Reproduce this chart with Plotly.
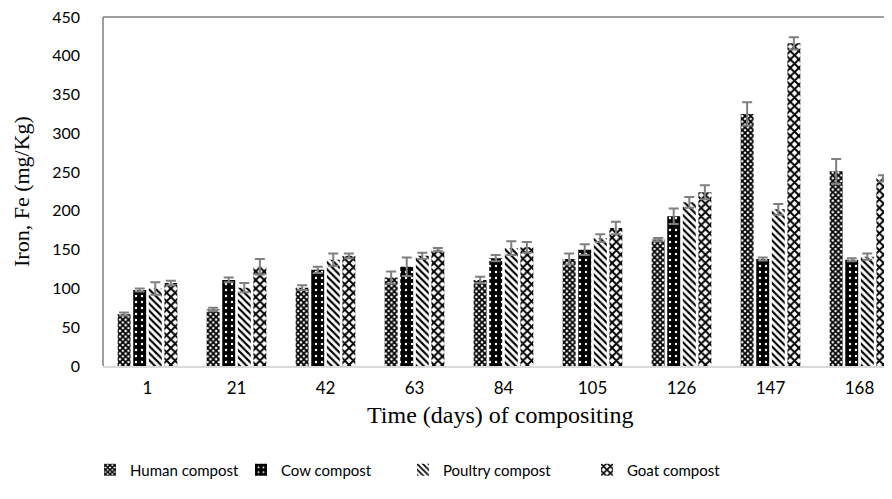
import plotly.graph_objects as go

days = ["1", "21", "42", "63", "84", "105", "126", "147", "168"]
series_names = ["Human compost", "Cow compost", "Poultry compost", "Goat compost"]
human = [67, 73, 101, 114, 111, 138, 163, 325, 251]
human_err = [2, 2, 3, 8, 4, 7, 2, 15, 16]
cow = [98, 111, 124, 128, 139, 150, 193, 138, 137]
cow_err = [2, 3, 4, 12, 4, 7, 10, 2, 2]
poultry = [100, 101, 137, 142, 152, 165, 211, 202, 141]
poultry_err = [8, 6, 8, 4, 9, 5, 7, 7, 4]
goat = [107, 128, 142, 150, 153, 178, 224, 416, 242]
goat_err = [3, 10, 3, 2, 7, 8, 9, 8, 4]

values = [human, cow, poultry, goat]
errors = [human_err, cow_err, poultry_err, goat_err]
patterns = [
    dict(shape="x", size=4, solidity=0.7, fgcolor="black", bgcolor="white", fgopacity=1),
    dict(shape=".", size=6, solidity=0.12, fgcolor="white", bgcolor="black", fgopacity=1),
    dict(shape="\\", size=5, solidity=0.42, fgcolor="black", bgcolor="white", fgopacity=1),
    dict(shape="x", size=6, solidity=0.55, fgcolor="black", bgcolor="white", fgopacity=1),
]

# page offset (body margin) is 8px
OFF = 8
W, H = 892 - OFF, 499 - OFF
AX_L, AX_T, AX_B = 103, 17, 366  # page pixels of plot area
ml = AX_L - OFF
mt = AX_T - OFF
ph = AX_B - AX_T
mb = H - mt - ph
mr = 0
pw = W - ml - mr

def px_x(p):
    return (p - AX_L) / pw

def px_y(p):
    return (AX_B - p) / ph

legend_keys = ["legend", "legend2", "legend3", "legend4"]
legend_left_px = [90, 241, 403, 587]

fig = go.Figure()
for name, v, e, p, lk in zip(series_names, values, errors, patterns, legend_keys):
    fig.add_trace(go.Bar(
        name=name, x=days, y=v, legend=lk,
        marker=dict(color="white", line=dict(width=0), pattern=p),
        error_y=dict(type="data", array=e, visible=True, color="#7f7f7f", thickness=2, width=5),
    ))

legend_common = dict(orientation="h", xanchor="left", yanchor="middle", y=px_y(470),
                     font=dict(family="Lato", size=15, color="black"), itemwidth=30,
                     bgcolor="rgba(0,0,0,0)", borderwidth=0)
legends = {}
for lk, lx in zip(legend_keys, legend_left_px):
    legends[lk] = dict(legend_common, x=px_x(lx))

fig.update_layout(
    width=W, height=H,
    margin=dict(l=ml, r=mr, t=mt, b=mb, autoexpand=False),
    paper_bgcolor="white", plot_bgcolor="white",
    barmode="group", bargap=0.3, bargroupgap=0.17,
    font=dict(family="Lato", size=17, color="black"),
    showlegend=True,
    xaxis=dict(type="category", range=[-0.5, 8.365], showgrid=False, showline=True,
               linecolor="#d9d9d9", linewidth=1.5, ticks="", ticklabelstandoff=6,
               automargin=False, tickfont=dict(family="Lato", size=17)),
    yaxis=dict(range=[0, 450], dtick=50, showgrid=False, showline=False, zeroline=False,
               ticks="", ticklabelstandoff=22, automargin=False, ticklabeloverflow="allow",
               tickfont=dict(family="Lato", size=16)),
    shapes=[
        dict(type="line", xref="paper", yref="paper", x0=0, x1=1.02, y0=1, y1=1,
             line=dict(color="#7f7f7f", width=1.5)),
        dict(type="line", xref="paper", yref="paper", x0=0, x1=0, y0=0, y1=1,
             line=dict(color="#7f7f7f", width=1.5)),
    ],
    annotations=[
        dict(text="Iron, Fe (mg/Kg)", xref="paper", yref="paper",
             x=px_x(21), y=px_y(192), textangle=-90, showarrow=False,
             xanchor="center", yanchor="middle",
             font=dict(family="Liberation Serif", size=22, color="black")),
        dict(text="Time (days) of compositing", xref="paper", yref="paper",
             x=px_x(500), y=px_y(415), showarrow=False,
             xanchor="center", yanchor="middle",
             font=dict(family="Liberation Serif", size=24, color="black")),
    ],
    **legends,
)

fig.write_html("out.html")
